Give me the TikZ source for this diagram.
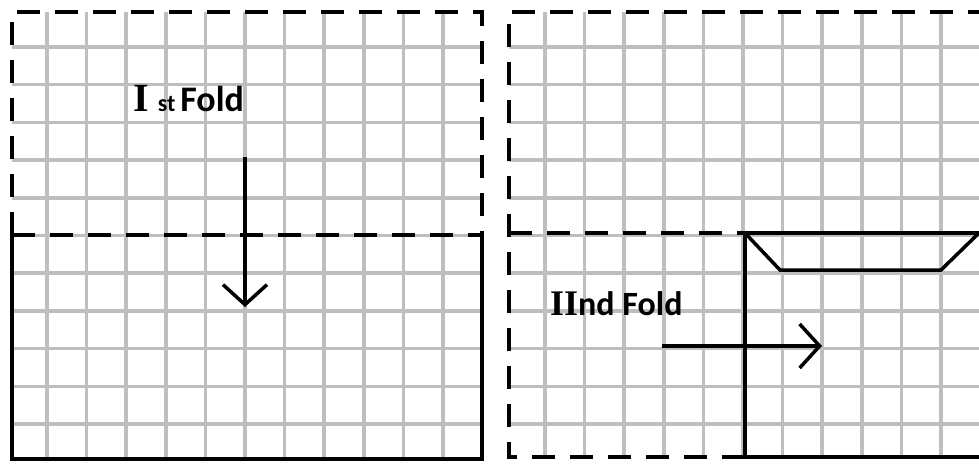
\documentclass[tikz,border=0pt]{standalone}
\usepackage{fontspec}
\setmainfont{Carlito}
\newfontfamily\romfont{Liberation Serif}[BoldFont={* Bold}]
\usetikzlibrary{arrows.meta}
\definecolor{gridgray}{RGB}{190,190,190}

\begin{document}
\begin{tikzpicture}[x=1pt,y=-1pt,
    gridline/.style={gridgray,line width=3.5pt},
    foldedge/.style={line width=4pt,dash pattern=on 23pt off 15pt},
    paperedge/.style={line width=3.5pt,line join=miter},
    foldarrow/.style={line width=3.5pt,-{Straight Barb[length=20pt,width=44pt,line width=3.5pt]}}]
  \useasboundingbox (0,0) rectangle (979,463);
  % grid of the first sheet
  \foreach \i in {0,...,10}
    \draw[gridline] ({47+39.6*\i},12) -- ({47+39.6*\i},459);
  \foreach \j in {0,...,10}
    \draw[gridline] (12,{47+37.7*\j}) -- (482,{47+37.7*\j});
  % grid of the second sheet
  \foreach \i in {0,...,10}
    \draw[gridline] ({545+39.6*\i},12) -- ({545+39.6*\i},457);
  \foreach \j in {0,...,10}
    \draw[gridline] (509,{47+37.7*\j}) -- (979,{47+37.7*\j});
  % first sheet
  \draw[foldedge] (12,235) -- (12,12) -- (482,12) -- (482,235);
  \draw[foldedge] (12,235) -- (482,235);
  \draw[paperedge] (12,235) -- (12,459) -- (482,459) -- (482,235);
  % second sheet
  \draw[foldedge] (745,457) -- (509,457) -- (509,12) -- (979,12);
  \draw[foldedge] (509,233) -- (745,233);
  \draw[paperedge] (979,233) -- (745,233) -- (745,459);
  \draw[paperedge] (745,457) -- (979,457);
  \draw[paperedge] (745,233) -- (780,270) -- (941,270) -- (979,233);
  % labels
  \node[anchor=base west,inner sep=0] (fold1) at (133,111)
    {{\romfont\bfseries\fontsize{40}{40}\selectfont I}\hspace{9pt}{\bfseries\fontsize{24}{24}\selectfont st}\hspace{5pt}{\bfseries\fontsize{36}{36}\selectfont Fold}};
  \node[anchor=base west,inner sep=0] (fold2) at (550,315)
    {{\romfont\bfseries\fontsize{36}{36}\selectfont II}{\bfseries\fontsize{34}{34}\selectfont nd Fold}};
  % arrows
  \coordinate (down1) at (245,157);
  \coordinate (down2) at (245,307);
  \coordinate (right1) at (662,346);
  \coordinate (right2) at (822,346);
  \draw[foldarrow] (down1) -- (down2);
  \draw[foldarrow] (right1) -- (right2);
\end{tikzpicture}
\end{document}
